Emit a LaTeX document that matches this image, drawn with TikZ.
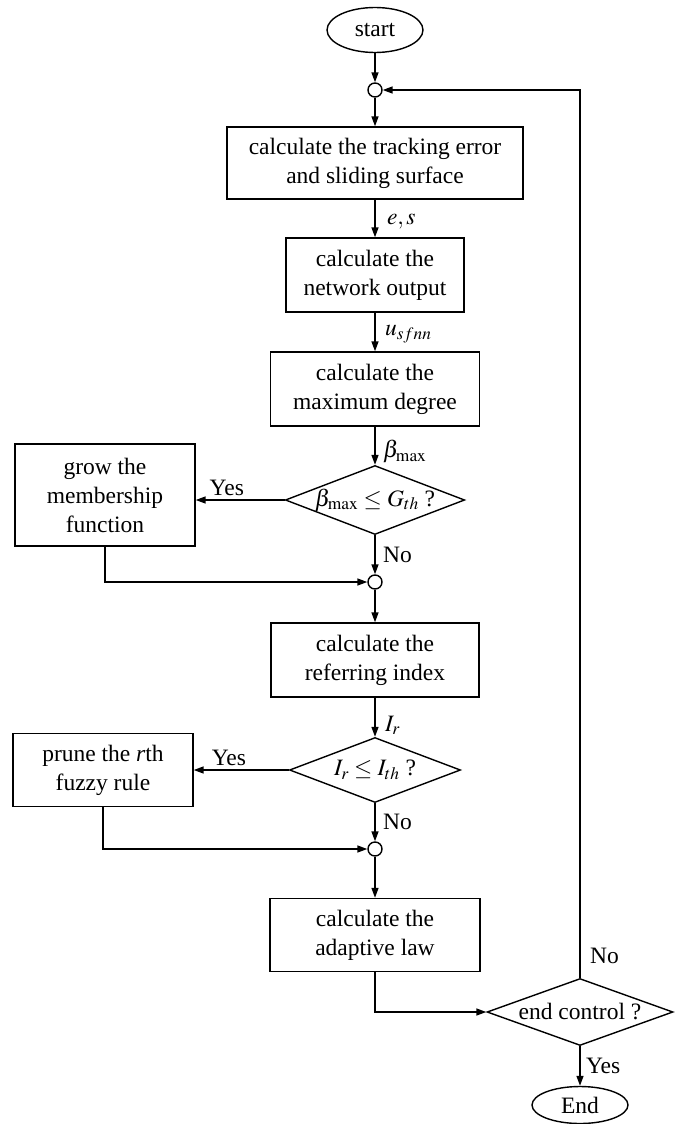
\documentclass[tikz,border=0pt]{standalone}
\usepackage{mathptmx}
\usepackage{fontspec}
\setmainfont{Liberation Serif}
\usetikzlibrary{shapes.geometric,arrows.meta}

\begin{document}
\begin{tikzpicture}[x=1pt,y=-1pt,
  line width=1.5pt,>={Triangle[length=10pt,width=7pt]},
  every node/.style={font=\fontsize{23.5}{29}\selectfont},
  proc node/.style={rectangle,draw,line width=1.4pt,align=center,inner sep=0pt},
  test node/.style={diamond,draw,line width=1.4pt,inner sep=0pt,aspect=2.6},
  term node/.style={ellipse,draw,line width=1.4pt,inner sep=0pt},
  join node/.style={circle,draw,line width=1.4pt,inner sep=0pt,minimum size=14pt}]

  \useasboundingbox (0,0) rectangle (684,1124);

  \node[term node,minimum width=96pt,minimum height=45pt] (start) at (375,30){start};
  \node[join node] (j1) at (375,90){};
  \node[proc node,minimum width=296pt,minimum height=72pt] (track) at (375,163)
     {calculate the tracking error\\and sliding surface};
  \node[proc node,minimum width=178pt,minimum height=74pt] (net) at (375,275)
     {calculate the\\network output};
  \node[proc node,minimum width=209pt,minimum height=74pt] (degree) at (375,389)
     {calculate the\\maximum degree};
  \node[test node,minimum width=174pt,minimum height=66pt] (grow test) at (375,500)
     {$\beta_{\max}\le G_{th}$ ?};
  \node[proc node,minimum width=180pt,minimum height=102pt] (grow) at (105,495)
     {grow the\\membership\\function};
  \node[join node] (j2) at (375,582){};
  \node[proc node,minimum width=208pt,minimum height=74pt] (index) at (375,660)
     {calculate the\\referring index};
  \node[test node,minimum width=171pt,minimum height=65pt] (prune test) at (375,770)
     {$I_r\le I_{th}$ ?};
  \node[proc node,minimum width=180pt,minimum height=73pt] (prune) at (103,770)
     {prune the \textit{r}th\\fuzzy rule};
  \node[join node] (j3) at (375,849){};
  \node[proc node,minimum width=210pt,minimum height=73pt] (law) at (375,935)
     {calculate the\\adaptive law};
  \node[test node,minimum width=186pt,minimum height=67pt] (end test) at (580,1012)
     {end control ?};
  \node[term node,minimum width=96pt,minimum height=37pt] (end) at (580,1105){End};
  \coordinate (corner) at (580,90);

  \path[->]
   (start) edge (j1)
   (j1) edge (track)
   (track) edge node[right,xshift=8pt,yshift=-3pt]{$e,s$} (net)
   (net) edge node[right,xshift=6pt,yshift=-2pt]{$u_{sfnn}$} (degree)
   (degree) edge node[right,xshift=4pt,yshift=-6pt]{$\beta_{\max}$} (grow test)
   (grow test.west) edge node[above,pos=0.65]{Yes} (grow test.west -| grow.east)
   (grow test) edge node[right,xshift=4pt]{No} (j2)
   (j2) edge (index)
   (index) edge node[right,xshift=6pt,yshift=-8pt]{$I_r$} (prune test)
   (prune test.west) edge node[above,pos=0.63]{Yes} (prune.east)
   (prune test) edge node[right,xshift=4pt]{No} (j3)
   (j3) edge (law)
   (end test) edge node[right,xshift=2pt]{Yes} (end);

  \draw[->] (grow.south) |- (j2.west);
  \draw[->] (prune.south) |- (j3.west);
  \draw[->] (law.south) |- (end test.west);
  \draw[->] (end test.north) -- node[right,pos=0.025,xshift=6pt]{No} (corner) -- (j1.east);
\end{tikzpicture}
\end{document}
